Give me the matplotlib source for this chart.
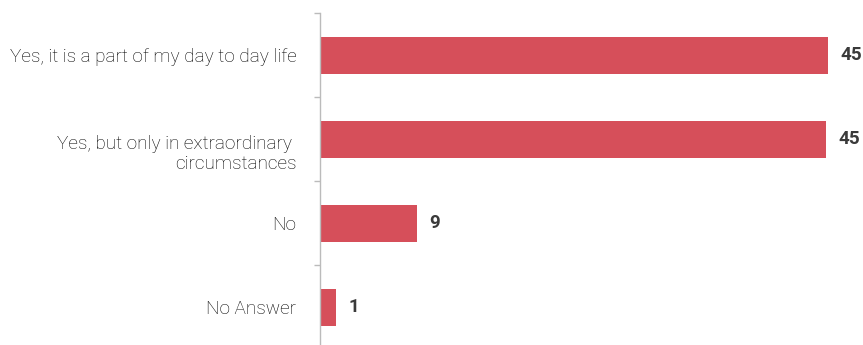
import matplotlib.pyplot as plt
import matplotlib.transforms as mtransforms

# Survey answers (percent)
categories = ['Yes, it is a part of my day to day life',
              'Yes, but only in extraordinary \ncircumstances',
              'No',
              'No Answer']
values = [45.2, 45.0, 8.6, 1.4]
labels = ['45', '45', '9', '1']

plt.rcParams['font.family'] = ['Roboto', 'DejaVu Sans']

fig = plt.figure(figsize=(8.63, 3.45), dpi=100)
ax = fig.add_axes([0.3708, -0.013, 0.629, 0.9739])

pos = list(range(len(categories)))
ax.barh(pos, values, height=0.446, color='#d64f5a')
ax.set_ylim(len(categories) - 0.5, -0.5)
ax.set_xlim(0, 48.3)

for p, v, lab in zip(pos, values, labels):
    ax.annotate(lab, (v, p), xytext=(9, 0), textcoords='offset points',
                va='center', ha='left', fontsize=13.5, fontweight='bold', color='#3a3a3a')

# category labels
ax.set_yticks(pos)
ax.set_yticklabels(categories, fontsize=13.7, color='#000000', fontweight='light')
ax.tick_params(axis='y', which='major', length=0, pad=17)
# boundaries ticks
ax.set_yticks([p - 0.5 for p in pos] + [len(pos) - 0.5], minor=True)
ax.tick_params(axis='y', which='minor', length=4.3, color='#bbbbbb', width=1)

# nudge the two-line label down a bit
lbl = ax.get_yticklabels()[1]
lbl.set_transform(lbl.get_transform() + mtransforms.ScaledTranslation(0, -8 / 72, fig.dpi_scale_trans))

ax.xaxis.set_visible(False)
for s in ['top', 'right', 'bottom']:
    ax.spines[s].set_visible(False)
ax.spines['left'].set_color('#bbbbbb')
ax.spines['left'].set_linewidth(1)

fig.savefig('out.png', dpi=100)
